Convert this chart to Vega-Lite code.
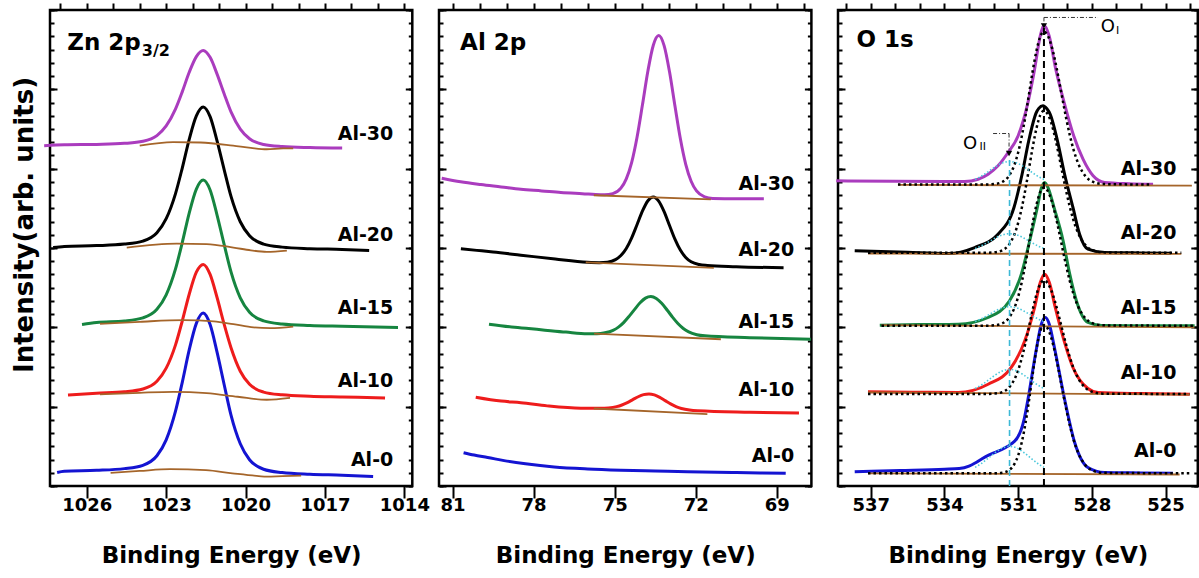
{
"$schema":"https://vega.github.io/schema/vega-lite/v6.json",
"padding":{"left":9,"top":0,"right":0,"bottom":0},
"config":{"view":{"stroke":"black","strokeWidth":2.5},"font":"DejaVu Sans",
"axis":{"domain":false,"grid":false,"tickColor":"black","tickWidth":2,"labelFont":"DejaVu Sans","labelFontSize":18,"labelFontWeight":"bold","labelColor":"black","titleFont":"DejaVu Sans","titleFontSize":23,"titleFontWeight":"bold","titleColor":"black","zindex":1,"labelOverlap":false,"labelFlush":false}},
"datasets":{
"zn":[
{"s":"Al-30","x":1027.61,"y":4.29},{"s":"Al-30","x":1026.85,"y":4.3},{"s":"Al-30","x":1025.63,"y":4.306},{"s":"Al-30","x":1024.58,"y":4.319},{"s":"Al-30","x":1023.88,"y":4.345},{"s":"Al-30","x":1023.35,"y":4.417},{"s":"Al-30","x":1023.0,"y":4.538},{"s":"Al-30","x":1022.65,"y":4.75},{"s":"Al-30","x":1022.39,"y":4.971},{"s":"Al-30","x":1022.13,"y":5.215},{"s":"Al-30","x":1021.86,"y":5.413},{"s":"Al-30","x":1021.6,"y":5.49},{"s":"Al-30","x":1021.34,"y":5.403},{"s":"Al-30","x":1021.08,"y":5.195},{"s":"Al-30","x":1020.81,"y":4.944},{"s":"Al-30","x":1020.55,"y":4.715},{"s":"Al-30","x":1020.2,"y":4.498},{"s":"Al-30","x":1019.85,"y":4.377},{"s":"Al-30","x":1019.32,"y":4.305},{"s":"Al-30","x":1018.62,"y":4.279},{"s":"Al-30","x":1017.57,"y":4.266},{"s":"Al-30","x":1016.35,"y":4.26},
{"s":"Al-20","x":1027.27,"y":3.006},{"s":"Al-20","x":1026.85,"y":3.02},{"s":"Al-20","x":1025.63,"y":3.03},{"s":"Al-20","x":1024.58,"y":3.049},{"s":"Al-20","x":1023.88,"y":3.087},{"s":"Al-20","x":1023.35,"y":3.192},{"s":"Al-20","x":1023.0,"y":3.369},{"s":"Al-20","x":1022.65,"y":3.683},{"s":"Al-20","x":1022.39,"y":4.011},{"s":"Al-20","x":1022.13,"y":4.37},{"s":"Al-20","x":1021.86,"y":4.665},{"s":"Al-20","x":1021.6,"y":4.777},{"s":"Al-20","x":1021.34,"y":4.656},{"s":"Al-20","x":1021.08,"y":4.353},{"s":"Al-20","x":1020.81,"y":3.989},{"s":"Al-20","x":1020.55,"y":3.65},{"s":"Al-20","x":1020.2,"y":3.331},{"s":"Al-20","x":1019.85,"y":3.154},{"s":"Al-20","x":1019.32,"y":3.049},{"s":"Al-20","x":1018.62,"y":3.011},{"s":"Al-20","x":1017.57,"y":2.992},{"s":"Al-20","x":1016.35,"y":2.982},{"s":"Al-20","x":1015.33,"y":2.968},
{"s":"Al-15","x":1026.18,"y":2.036},{"s":"Al-15","x":1025.63,"y":2.061},{"s":"Al-15","x":1024.58,"y":2.08},{"s":"Al-15","x":1023.88,"y":2.119},{"s":"Al-15","x":1023.35,"y":2.227},{"s":"Al-15","x":1023.0,"y":2.41},{"s":"Al-15","x":1022.65,"y":2.733},{"s":"Al-15","x":1022.39,"y":3.072},{"s":"Al-15","x":1022.13,"y":3.44},{"s":"Al-15","x":1021.86,"y":3.743},{"s":"Al-15","x":1021.6,"y":3.857},{"s":"Al-15","x":1021.34,"y":3.732},{"s":"Al-15","x":1021.08,"y":3.419},{"s":"Al-15","x":1020.81,"y":3.045},{"s":"Al-15","x":1020.55,"y":2.699},{"s":"Al-15","x":1020.2,"y":2.372},{"s":"Al-15","x":1019.85,"y":2.189},{"s":"Al-15","x":1019.32,"y":2.081},{"s":"Al-15","x":1018.62,"y":2.042},{"s":"Al-15","x":1017.57,"y":2.023},{"s":"Al-15","x":1016.35,"y":2.013},{"s":"Al-15","x":1014.24,"y":1.998},
{"s":"Al-10","x":1026.71,"y":1.147},{"s":"Al-10","x":1025.63,"y":1.169},{"s":"Al-10","x":1024.58,"y":1.187},{"s":"Al-10","x":1023.88,"y":1.222},{"s":"Al-10","x":1023.35,"y":1.32},{"s":"Al-10","x":1023.0,"y":1.485},{"s":"Al-10","x":1022.65,"y":1.776},{"s":"Al-10","x":1022.39,"y":2.083},{"s":"Al-10","x":1022.13,"y":2.417},{"s":"Al-10","x":1021.86,"y":2.695},{"s":"Al-10","x":1021.6,"y":2.793},{"s":"Al-10","x":1021.34,"y":2.667},{"s":"Al-10","x":1021.08,"y":2.379},{"s":"Al-10","x":1020.81,"y":2.04},{"s":"Al-10","x":1020.55,"y":1.743},{"s":"Al-10","x":1020.2,"y":1.447},{"s":"Al-10","x":1019.85,"y":1.282},{"s":"Al-10","x":1019.32,"y":1.184},{"s":"Al-10","x":1018.62,"y":1.149},{"s":"Al-10","x":1017.57,"y":1.131},{"s":"Al-10","x":1016.35,"y":1.122},{"s":"Al-10","x":1014.73,"y":1.109},
{"s":"Al-0","x":1027.12,"y":0.17},{"s":"Al-0","x":1026.85,"y":0.186},{"s":"Al-0","x":1025.63,"y":0.197},{"s":"Al-0","x":1024.58,"y":0.219},{"s":"Al-0","x":1023.88,"y":0.261},{"s":"Al-0","x":1023.35,"y":0.381},{"s":"Al-0","x":1023.0,"y":0.582},{"s":"Al-0","x":1022.65,"y":0.94},{"s":"Al-0","x":1022.39,"y":1.31},{"s":"Al-0","x":1022.13,"y":1.715},{"s":"Al-0","x":1021.86,"y":2.05},{"s":"Al-0","x":1021.6,"y":2.18},{"s":"Al-0","x":1021.34,"y":2.035},{"s":"Al-0","x":1021.08,"y":1.69},{"s":"Al-0","x":1020.81,"y":1.28},{"s":"Al-0","x":1020.55,"y":0.893},{"s":"Al-0","x":1020.2,"y":0.532},{"s":"Al-0","x":1019.85,"y":0.331},{"s":"Al-0","x":1019.32,"y":0.211},{"s":"Al-0","x":1018.62,"y":0.169},{"s":"Al-0","x":1017.57,"y":0.147},{"s":"Al-0","x":1016.35,"y":0.136},{"s":"Al-0","x":1015.18,"y":0.12}
],
"znbg":[
{"s":"Al-30","x":1024.0,"y":4.29},{"s":"Al-30","x":1022.74,"y":4.335},{"s":"Al-30","x":1021.7,"y":4.33},{"s":"Al-30","x":1020.47,"y":4.29},{"s":"Al-30","x":1019.8,"y":4.262},{"s":"Al-30","x":1019.2,"y":4.245},{"s":"Al-30","x":1018.58,"y":4.255},{"s":"Al-30","x":1018.2,"y":4.255},
{"s":"Al-20","x":1024.49,"y":3.006},{"s":"Al-20","x":1022.6,"y":3.055},{"s":"Al-20","x":1021.47,"y":3.05},{"s":"Al-20","x":1020.46,"y":3.006},{"s":"Al-20","x":1019.8,"y":2.97},{"s":"Al-20","x":1019.2,"y":2.952},{"s":"Al-20","x":1018.44,"y":2.968},
{"s":"Al-15","x":1025.5,"y":2.045},{"s":"Al-15","x":1024.0,"y":2.07},{"s":"Al-15","x":1022.35,"y":2.09},{"s":"Al-15","x":1021.2,"y":2.075},{"s":"Al-15","x":1020.46,"y":2.04},{"s":"Al-15","x":1019.7,"y":2.0},{"s":"Al-15","x":1019.07,"y":1.99},{"s":"Al-15","x":1018.2,"y":2.01},
{"s":"Al-10","x":1025.5,"y":1.155},{"s":"Al-10","x":1024.0,"y":1.175},{"s":"Al-10","x":1022.73,"y":1.187},{"s":"Al-10","x":1021.47,"y":1.17},{"s":"Al-10","x":1020.3,"y":1.125},{"s":"Al-10","x":1019.2,"y":1.087},{"s":"Al-10","x":1018.32,"y":1.112},
{"s":"Al-0","x":1025.1,"y":0.165},{"s":"Al-0","x":1024.0,"y":0.19},{"s":"Al-0","x":1022.85,"y":0.212},{"s":"Al-0","x":1021.5,"y":0.2},{"s":"Al-0","x":1020.5,"y":0.16},{"s":"Al-0","x":1019.5,"y":0.125},{"s":"Al-0","x":1019.2,"y":0.118},{"s":"Al-0","x":1018.6,"y":0.125},{"s":"Al-0","x":1017.9,"y":0.13}
],
"al":[
{"s":"Al-30","x":81.4,"y":3.88},{"s":"Al-30","x":80.7,"y":3.835},{"s":"Al-30","x":79.95,"y":3.8},{"s":"Al-30","x":79.2,"y":3.77},{"s":"Al-30","x":78.47,"y":3.74},{"s":"Al-30","x":77.7,"y":3.72},{"s":"Al-30","x":76.99,"y":3.7},{"s":"Al-30","x":76.2,"y":3.685},{"s":"Al-30","x":75.51,"y":3.672},{"s":"Al-30","x":75.37,"y":3.672},{"s":"Al-30","x":75.07,"y":3.686},{"s":"Al-30","x":74.77,"y":3.754},{"s":"Al-30","x":74.57,"y":3.872},{"s":"Al-30","x":74.37,"y":4.08},{"s":"Al-30","x":74.17,"y":4.4},{"s":"Al-30","x":73.97,"y":4.808},{"s":"Al-30","x":73.77,"y":5.231},{"s":"Al-30","x":73.57,"y":5.556},{"s":"Al-30","x":73.37,"y":5.678},{"s":"Al-30","x":73.17,"y":5.551},{"s":"Al-30","x":72.97,"y":5.221},{"s":"Al-30","x":72.77,"y":4.793},{"s":"Al-30","x":72.57,"y":4.38},{"s":"Al-30","x":72.37,"y":4.055},{"s":"Al-30","x":72.17,"y":3.842},{"s":"Al-30","x":71.97,"y":3.719},{"s":"Al-30","x":71.67,"y":3.644},{"s":"Al-30","x":71.37,"y":3.624},{"s":"Al-30","x":70.5,"y":3.62},{"s":"Al-30","x":69.48,"y":3.62},
{"s":"Al-20","x":80.69,"y":2.99},{"s":"Al-20","x":80.1,"y":2.97},{"s":"Al-20","x":79.5,"y":2.95},{"s":"Al-20","x":78.47,"y":2.91},{"s":"Al-20","x":77.2,"y":2.86},{"s":"Al-20","x":76.01,"y":2.82},{"s":"Al-20","x":75.57,"y":2.815},{"s":"Al-20","x":75.27,"y":2.821},{"s":"Al-20","x":74.97,"y":2.853},{"s":"Al-20","x":74.77,"y":2.905},{"s":"Al-20","x":74.57,"y":2.994},{"s":"Al-20","x":74.37,"y":3.128},{"s":"Al-20","x":74.17,"y":3.296},{"s":"Al-20","x":73.97,"y":3.467},{"s":"Al-20","x":73.77,"y":3.596},{"s":"Al-20","x":73.57,"y":3.644},{"s":"Al-20","x":73.37,"y":3.592},{"s":"Al-20","x":73.17,"y":3.459},{"s":"Al-20","x":72.97,"y":3.284},{"s":"Al-20","x":72.77,"y":3.112},{"s":"Al-20","x":72.57,"y":2.974},{"s":"Al-20","x":72.37,"y":2.881},{"s":"Al-20","x":72.17,"y":2.826},{"s":"Al-20","x":71.87,"y":2.791},{"s":"Al-20","x":71.57,"y":2.78},{"s":"Al-20","x":70.5,"y":2.765},{"s":"Al-20","x":68.75,"y":2.75},
{"s":"Al-15","x":79.65,"y":2.04},{"s":"Al-15","x":78.7,"y":2.0},{"s":"Al-15","x":77.73,"y":1.97},{"s":"Al-15","x":76.8,"y":1.94},{"s":"Al-15","x":76.01,"y":1.92},{"s":"Al-15","x":75.66,"y":1.92},{"s":"Al-15","x":75.36,"y":1.931},{"s":"Al-15","x":75.06,"y":1.962},{"s":"Al-15","x":74.86,"y":2.003},{"s":"Al-15","x":74.66,"y":2.063},{"s":"Al-15","x":74.46,"y":2.141},{"s":"Al-15","x":74.26,"y":2.227},{"s":"Al-15","x":74.06,"y":2.309},{"s":"Al-15","x":73.86,"y":2.368},{"s":"Al-15","x":73.66,"y":2.388},{"s":"Al-15","x":73.46,"y":2.364},{"s":"Al-15","x":73.26,"y":2.303},{"s":"Al-15","x":73.06,"y":2.219},{"s":"Al-15","x":72.86,"y":2.129},{"s":"Al-15","x":72.66,"y":2.049},{"s":"Al-15","x":72.46,"y":1.986},{"s":"Al-15","x":72.26,"y":1.943},{"s":"Al-15","x":71.96,"y":1.907},{"s":"Al-15","x":71.66,"y":1.893},{"s":"Al-15","x":70.0,"y":1.87},{"s":"Al-15","x":67.74,"y":1.85},
{"s":"Al-10","x":80.14,"y":1.12},{"s":"Al-10","x":79.2,"y":1.07},{"s":"Al-10","x":78.47,"y":1.05},{"s":"Al-10","x":77.5,"y":1.01},{"s":"Al-10","x":76.25,"y":0.98},{"s":"Al-10","x":75.53,"y":0.979},{"s":"Al-10","x":75.23,"y":0.984},{"s":"Al-10","x":74.93,"y":1.0},{"s":"Al-10","x":74.73,"y":1.021},{"s":"Al-10","x":74.53,"y":1.051},{"s":"Al-10","x":74.33,"y":1.088},{"s":"Al-10","x":74.13,"y":1.125},{"s":"Al-10","x":73.93,"y":1.152},{"s":"Al-10","x":73.73,"y":1.161},{"s":"Al-10","x":73.53,"y":1.148},{"s":"Al-10","x":73.33,"y":1.117},{"s":"Al-10","x":73.13,"y":1.076},{"s":"Al-10","x":72.93,"y":1.035},{"s":"Al-10","x":72.73,"y":1.001},{"s":"Al-10","x":72.53,"y":0.977},{"s":"Al-10","x":72.23,"y":0.957},{"s":"Al-10","x":71.93,"y":0.948},{"s":"Al-10","x":70.0,"y":0.93},{"s":"Al-10","x":68.18,"y":0.92},
{"s":"Al-0","x":80.59,"y":0.42},{"s":"Al-0","x":80.2,"y":0.39},{"s":"Al-0","x":79.7,"y":0.36},{"s":"Al-0","x":79.09,"y":0.32},{"s":"Al-0","x":78.3,"y":0.28},{"s":"Al-0","x":77.24,"y":0.24},{"s":"Al-0","x":76.0,"y":0.215},{"s":"Al-0","x":74.77,"y":0.2},{"s":"Al-0","x":73.5,"y":0.19},{"s":"Al-0","x":72.31,"y":0.18},{"s":"Al-0","x":70.5,"y":0.17},{"s":"Al-0","x":68.67,"y":0.16}
],
"albg":[
{"s":"Al-30","x":75.77,"y":3.665},{"s":"Al-30","x":71.44,"y":3.612},
{"s":"Al-20","x":76.07,"y":2.82},{"s":"Al-20","x":71.33,"y":2.75},
{"s":"Al-15","x":75.76,"y":1.92},{"s":"Al-15","x":71.07,"y":1.85},
{"s":"Al-10","x":75.77,"y":0.977},{"s":"Al-10","x":71.57,"y":0.905}
],
"o":[
{"s":"Al-30","x":538.4,"y":3.847},{"s":"Al-30","x":536.0,"y":3.842},{"s":"Al-30","x":534.0,"y":3.838},{"s":"Al-30","x":533.18,"y":3.838},{"s":"Al-30","x":532.63,"y":3.867},{"s":"Al-30","x":532.22,"y":3.93},{"s":"Al-30","x":531.82,"y":4.036},{"s":"Al-30","x":531.41,"y":4.204},{"s":"Al-30","x":531.0,"y":4.414},{"s":"Al-30","x":530.6,"y":4.836},{"s":"Al-30","x":530.33,"y":5.254},{"s":"Al-30","x":530.1,"y":5.675},{"s":"Al-30","x":529.95,"y":5.809},{"s":"Al-30","x":529.74,"y":5.675},{"s":"Al-30","x":529.47,"y":5.254},{"s":"Al-30","x":529.13,"y":4.836},{"s":"Al-30","x":528.74,"y":4.414},{"s":"Al-30","x":528.36,"y":4.119},{"s":"Al-30","x":527.95,"y":3.91},{"s":"Al-30","x":527.48,"y":3.826},{"s":"Al-30","x":526.5,"y":3.81},{"s":"Al-30","x":525.51,"y":3.804},
{"s":"Al-20","x":537.65,"y":2.965},{"s":"Al-20","x":535.5,"y":2.945},{"s":"Al-20","x":533.85,"y":2.931},{"s":"Al-20","x":532.77,"y":3.006},{"s":"Al-20","x":531.82,"y":3.174},{"s":"Al-20","x":531.17,"y":3.511},{"s":"Al-20","x":530.84,"y":3.93},{"s":"Al-20","x":530.57,"y":4.351},{"s":"Al-20","x":530.26,"y":4.708},{"s":"Al-20","x":530.16,"y":4.76},{"s":"Al-20","x":529.99,"y":4.793},{"s":"Al-20","x":529.83,"y":4.755},{"s":"Al-20","x":529.69,"y":4.683},{"s":"Al-20","x":529.4,"y":4.351},{"s":"Al-20","x":529.11,"y":3.93},{"s":"Al-20","x":528.77,"y":3.511},{"s":"Al-20","x":528.5,"y":3.174},{"s":"Al-20","x":528.16,"y":2.985},{"s":"Al-20","x":527.48,"y":2.943},{"s":"Al-20","x":526.0,"y":2.938},{"s":"Al-20","x":524.77,"y":2.935},
{"s":"Al-15","x":536.63,"y":2.027},{"s":"Al-15","x":535.0,"y":2.035},{"s":"Al-15","x":533.44,"y":2.04},{"s":"Al-15","x":532.22,"y":2.124},{"s":"Al-15","x":531.35,"y":2.335},{"s":"Al-15","x":530.87,"y":2.67},{"s":"Al-15","x":530.53,"y":3.091},{"s":"Al-15","x":530.22,"y":3.511},{"s":"Al-15","x":530.06,"y":3.75},{"s":"Al-15","x":529.92,"y":3.826},{"s":"Al-15","x":529.77,"y":3.75},{"s":"Al-15","x":529.54,"y":3.511},{"s":"Al-15","x":529.17,"y":3.091},{"s":"Al-15","x":528.9,"y":2.67},{"s":"Al-15","x":528.63,"y":2.335},{"s":"Al-15","x":528.16,"y":2.061},{"s":"Al-15","x":527.61,"y":2.023},{"s":"Al-15","x":525.5,"y":2.02},{"s":"Al-15","x":523.82,"y":2.019},
{"s":"Al-10","x":537.11,"y":1.187},{"s":"Al-10","x":535.3,"y":1.183},{"s":"Al-10","x":533.44,"y":1.179},{"s":"Al-10","x":532.22,"y":1.283},{"s":"Al-10","x":531.28,"y":1.494},{"s":"Al-10","x":530.73,"y":1.83},{"s":"Al-10","x":530.33,"y":2.25},{"s":"Al-10","x":530.1,"y":2.565},{"s":"Al-10","x":529.92,"y":2.67},{"s":"Al-10","x":529.73,"y":2.565},{"s":"Al-10","x":529.49,"y":2.25},{"s":"Al-10","x":529.13,"y":1.83},{"s":"Al-10","x":528.77,"y":1.494},{"s":"Al-10","x":528.16,"y":1.229},{"s":"Al-10","x":527.75,"y":1.179},{"s":"Al-10","x":526.0,"y":1.165},{"s":"Al-10","x":524.02,"y":1.157},
{"s":"Al-0","x":537.65,"y":0.179},{"s":"Al-0","x":535.8,"y":0.195},{"s":"Al-0","x":533.99,"y":0.212},{"s":"Al-0","x":533.4,"y":0.22},{"s":"Al-0","x":533.0,"y":0.25},{"s":"Al-0","x":532.75,"y":0.29},{"s":"Al-0","x":532.5,"y":0.338},{"s":"Al-0","x":532.2,"y":0.39},{"s":"Al-0","x":531.96,"y":0.422},{"s":"Al-0","x":531.6,"y":0.47},{"s":"Al-0","x":531.28,"y":0.53},{"s":"Al-0","x":531.05,"y":0.6},{"s":"Al-0","x":530.87,"y":0.716},{"s":"Al-0","x":530.75,"y":0.85},{"s":"Al-0","x":530.6,"y":1.094},{"s":"Al-0","x":530.26,"y":1.724},{"s":"Al-0","x":530.06,"y":2.036},{"s":"Al-0","x":529.89,"y":2.124},{"s":"Al-0","x":529.73,"y":2.036},{"s":"Al-0","x":529.51,"y":1.724},{"s":"Al-0","x":529.11,"y":1.094},{"s":"Al-0","x":528.7,"y":0.548},{"s":"Al-0","x":528.16,"y":0.233},{"s":"Al-0","x":527.48,"y":0.17},{"s":"Al-0","x":526.0,"y":0.165},{"s":"Al-0","x":524.7,"y":0.161}
],
"obg":[
{"s":"Al-30","x":535.89,"y":3.795},{"s":"Al-30","x":523.93,"y":3.785},
{"s":"Al-20","x":537.11,"y":2.93},{"s":"Al-20","x":524.36,"y":2.925},
{"s":"Al-15","x":536.56,"y":2.027},{"s":"Al-15","x":523.83,"y":2.0},
{"s":"Al-10","x":537.11,"y":1.179},{"s":"Al-10","x":524.03,"y":1.153},
{"s":"Al-0","x":537.11,"y":0.158},{"s":"Al-0","x":524.43,"y":0.145}
],
"ofit1":[
{"s":"Al-30","x":535.89,"y":3.8},{"s":"Al-30","x":532.35,"y":3.8},{"s":"Al-30","x":531.95,"y":3.807},{"s":"Al-30","x":531.65,"y":3.832},{"s":"Al-30","x":531.35,"y":3.92},{"s":"Al-30","x":531.15,"y":4.05},{"s":"Al-30","x":531.0,"y":4.204},{"s":"Al-30","x":530.85,"y":4.412},{"s":"Al-30","x":530.7,"y":4.668},{"s":"Al-30","x":530.55,"y":4.956},{"s":"Al-30","x":530.4,"y":5.245},{"s":"Al-30","x":530.25,"y":5.493},{"s":"Al-30","x":530.1,"y":5.664},{"s":"Al-30","x":529.95,"y":5.724},{"s":"Al-30","x":529.8,"y":5.68},{"s":"Al-30","x":529.65,"y":5.555},{"s":"Al-30","x":529.5,"y":5.366},{"s":"Al-30","x":529.35,"y":5.133},{"s":"Al-30","x":529.2,"y":4.883},{"s":"Al-30","x":529.05,"y":4.643},{"s":"Al-30","x":528.9,"y":4.425},{"s":"Al-30","x":528.75,"y":4.243},{"s":"Al-30","x":528.55,"y":4.062},{"s":"Al-30","x":528.25,"y":3.9},{"s":"Al-30","x":527.95,"y":3.833},{"s":"Al-30","x":527.55,"y":3.806},{"s":"Al-30","x":525.58,"y":3.8},
{"s":"Al-20","x":537.11,"y":2.94},{"s":"Al-20","x":532.35,"y":2.94},{"s":"Al-20","x":531.95,"y":2.946},{"s":"Al-20","x":531.65,"y":2.97},{"s":"Al-20","x":531.35,"y":3.052},{"s":"Al-20","x":531.15,"y":3.173},{"s":"Al-20","x":531.0,"y":3.316},{"s":"Al-20","x":530.85,"y":3.509},{"s":"Al-20","x":530.7,"y":3.747},{"s":"Al-20","x":530.55,"y":4.016},{"s":"Al-20","x":530.4,"y":4.284},{"s":"Al-20","x":530.25,"y":4.515},{"s":"Al-20","x":530.1,"y":4.675},{"s":"Al-20","x":529.95,"y":4.73},{"s":"Al-20","x":529.8,"y":4.689},{"s":"Al-20","x":529.65,"y":4.573},{"s":"Al-20","x":529.5,"y":4.397},{"s":"Al-20","x":529.35,"y":4.18},{"s":"Al-20","x":529.2,"y":3.948},{"s":"Al-20","x":529.05,"y":3.724},{"s":"Al-20","x":528.9,"y":3.522},{"s":"Al-20","x":528.75,"y":3.352},{"s":"Al-20","x":528.55,"y":3.183},{"s":"Al-20","x":528.25,"y":3.033},{"s":"Al-20","x":527.95,"y":2.97},{"s":"Al-20","x":527.55,"y":2.945},{"s":"Al-20","x":524.36,"y":2.94},
{"s":"Al-15","x":536.56,"y":2.02},{"s":"Al-15","x":532.35,"y":2.02},{"s":"Al-15","x":531.95,"y":2.026},{"s":"Al-15","x":531.65,"y":2.049},{"s":"Al-15","x":531.35,"y":2.129},{"s":"Al-15","x":531.15,"y":2.246},{"s":"Al-15","x":531.0,"y":2.385},{"s":"Al-15","x":530.85,"y":2.573},{"s":"Al-15","x":530.7,"y":2.805},{"s":"Al-15","x":530.55,"y":3.066},{"s":"Al-15","x":530.4,"y":3.327},{"s":"Al-15","x":530.25,"y":3.551},{"s":"Al-15","x":530.1,"y":3.706},{"s":"Al-15","x":529.95,"y":3.76},{"s":"Al-15","x":529.8,"y":3.72},{"s":"Al-15","x":529.65,"y":3.607},{"s":"Al-15","x":529.5,"y":3.436},{"s":"Al-15","x":529.35,"y":3.226},{"s":"Al-15","x":529.2,"y":3.0},{"s":"Al-15","x":529.05,"y":2.782},{"s":"Al-15","x":528.9,"y":2.586},{"s":"Al-15","x":528.75,"y":2.42},{"s":"Al-15","x":528.55,"y":2.257},{"s":"Al-15","x":528.25,"y":2.11},{"s":"Al-15","x":527.95,"y":2.05},{"s":"Al-15","x":527.55,"y":2.025},{"s":"Al-15","x":523.83,"y":2.02},
{"s":"Al-10","x":537.11,"y":1.16},{"s":"Al-10","x":532.35,"y":1.16},{"s":"Al-10","x":531.95,"y":1.165},{"s":"Al-10","x":531.65,"y":1.184},{"s":"Al-10","x":531.35,"y":1.249},{"s":"Al-10","x":531.15,"y":1.346},{"s":"Al-10","x":531.0,"y":1.46},{"s":"Al-10","x":530.85,"y":1.615},{"s":"Al-10","x":530.7,"y":1.805},{"s":"Al-10","x":530.55,"y":2.019},{"s":"Al-10","x":530.4,"y":2.234},{"s":"Al-10","x":530.25,"y":2.418},{"s":"Al-10","x":530.1,"y":2.546},{"s":"Al-10","x":529.95,"y":2.59},{"s":"Al-10","x":529.8,"y":2.557},{"s":"Al-10","x":529.65,"y":2.464},{"s":"Al-10","x":529.5,"y":2.324},{"s":"Al-10","x":529.35,"y":2.151},{"s":"Al-10","x":529.2,"y":1.965},{"s":"Al-10","x":529.05,"y":1.786},{"s":"Al-10","x":528.9,"y":1.625},{"s":"Al-10","x":528.75,"y":1.489},{"s":"Al-10","x":528.55,"y":1.354},{"s":"Al-10","x":528.25,"y":1.234},{"s":"Al-10","x":527.95,"y":1.184},{"s":"Al-10","x":527.55,"y":1.164},{"s":"Al-10","x":524.03,"y":1.16},
{"s":"Al-0","x":537.11,"y":0.16},{"s":"Al-0","x":532.35,"y":0.16},{"s":"Al-0","x":531.95,"y":0.16},{"s":"Al-0","x":531.65,"y":0.167},{"s":"Al-0","x":531.35,"y":0.203},{"s":"Al-0","x":531.15,"y":0.278},{"s":"Al-0","x":531.0,"y":0.384},{"s":"Al-0","x":530.85,"y":0.555},{"s":"Al-0","x":530.7,"y":0.794},{"s":"Al-0","x":530.55,"y":1.095},{"s":"Al-0","x":530.4,"y":1.428},{"s":"Al-0","x":530.25,"y":1.733},{"s":"Al-0","x":530.1,"y":1.951},{"s":"Al-0","x":529.95,"y":2.03},{"s":"Al-0","x":529.8,"y":1.987},{"s":"Al-0","x":529.65,"y":1.865},{"s":"Al-0","x":529.5,"y":1.682},{"s":"Al-0","x":529.35,"y":1.456},{"s":"Al-0","x":529.2,"y":1.213},{"s":"Al-0","x":529.05,"y":0.979},{"s":"Al-0","x":528.9,"y":0.768},{"s":"Al-0","x":528.75,"y":0.59},{"s":"Al-0","x":528.55,"y":0.414},{"s":"Al-0","x":528.25,"y":0.257},{"s":"Al-0","x":527.95,"y":0.192},{"s":"Al-0","x":527.55,"y":0.166},{"s":"Al-0","x":524.03,"y":0.16}
],
"ofit2":[
{"s":"Al-30","x":532.75,"y":3.864},{"s":"Al-30","x":532.45,"y":3.915},{"s":"Al-30","x":532.15,"y":3.977},{"s":"Al-30","x":531.95,"y":4.02},{"s":"Al-30","x":531.65,"y":4.071},{"s":"Al-30","x":531.35,"y":4.09},{"s":"Al-30","x":531.05,"y":4.071},{"s":"Al-30","x":530.75,"y":4.02},{"s":"Al-30","x":530.45,"y":3.956},{"s":"Al-30","x":530.15,"y":3.896},{"s":"Al-30","x":529.95,"y":3.864},
{"s":"Al-20","x":532.75,"y":2.993},{"s":"Al-20","x":532.45,"y":3.035},{"s":"Al-20","x":532.15,"y":3.087},{"s":"Al-20","x":531.95,"y":3.122},{"s":"Al-20","x":531.65,"y":3.164},{"s":"Al-20","x":531.35,"y":3.18},{"s":"Al-20","x":531.05,"y":3.164},{"s":"Al-20","x":530.75,"y":3.122},{"s":"Al-20","x":530.45,"y":3.069},{"s":"Al-20","x":530.15,"y":3.019},{"s":"Al-20","x":529.95,"y":2.993},
{"s":"Al-15","x":532.75,"y":2.073},{"s":"Al-15","x":532.45,"y":2.115},{"s":"Al-15","x":532.15,"y":2.167},{"s":"Al-15","x":531.95,"y":2.202},{"s":"Al-15","x":531.65,"y":2.244},{"s":"Al-15","x":531.35,"y":2.26},{"s":"Al-15","x":531.05,"y":2.244},{"s":"Al-15","x":530.75,"y":2.202},{"s":"Al-15","x":530.45,"y":2.149},{"s":"Al-15","x":530.15,"y":2.099},{"s":"Al-15","x":529.95,"y":2.073},
{"s":"Al-10","x":532.75,"y":1.229},{"s":"Al-10","x":532.45,"y":1.282},{"s":"Al-10","x":532.15,"y":1.35},{"s":"Al-10","x":531.95,"y":1.395},{"s":"Al-10","x":531.65,"y":1.449},{"s":"Al-10","x":531.35,"y":1.47},{"s":"Al-10","x":531.05,"y":1.449},{"s":"Al-10","x":530.75,"y":1.395},{"s":"Al-10","x":530.45,"y":1.326},{"s":"Al-10","x":530.15,"y":1.263},{"s":"Al-10","x":529.95,"y":1.229},
{"s":"Al-0","x":532.75,"y":0.235},{"s":"Al-0","x":532.45,"y":0.294},{"s":"Al-0","x":532.15,"y":0.368},{"s":"Al-0","x":531.95,"y":0.418},{"s":"Al-0","x":531.65,"y":0.477},{"s":"Al-0","x":531.35,"y":0.5},{"s":"Al-0","x":531.05,"y":0.477},{"s":"Al-0","x":530.75,"y":0.418},{"s":"Al-0","x":530.45,"y":0.343},{"s":"Al-0","x":530.15,"y":0.273},{"s":"Al-0","x":529.95,"y":0.235}
],
"lab":[
{"p":"zn","t":"Al-30","x":1014.42,"y":4.44},{"p":"zn","t":"Al-20","x":1014.42,"y":3.17},{"p":"zn","t":"Al-15","x":1014.42,"y":2.24},{"p":"zn","t":"Al-10","x":1014.42,"y":1.32},{"p":"zn","t":"Al-0","x":1014.42,"y":0.33},
{"p":"al","t":"Al-30","x":68.36,"y":3.81},{"p":"al","t":"Al-20","x":68.36,"y":2.97},{"p":"al","t":"Al-15","x":68.36,"y":2.07},{"p":"al","t":"Al-10","x":68.36,"y":1.21},{"p":"al","t":"Al-0","x":68.36,"y":0.38},
{"p":"o","t":"Al-30","x":524.56,"y":3.99},{"p":"o","t":"Al-20","x":524.56,"y":3.185},{"p":"o","t":"Al-15","x":524.56,"y":2.24},{"p":"o","t":"Al-10","x":524.56,"y":1.42},{"p":"o","t":"Al-0","x":524.56,"y":0.435}
],
"ttl":[
{"p":"zn","k":"main","t":"Zn 2p","x":1026.74,"y":5.5},{"p":"zn","k":"sub","t":"3/2","x":1023.92,"y":5.42},
{"p":"al","k":"main","t":"Al 2p","x":80.72,"y":5.5},
{"p":"o","k":"main","t":"O 1s","x":537.58,"y":5.53},
{"p":"o","k":"ann","t":"O","x":527.64,"y":5.723},{"p":"o","k":"annsub","t":"I","x":527.02,"y":5.7},
{"p":"o","k":"ann","t":"O","x":533.24,"y":4.245},{"p":"o","k":"annsub","t":"II","x":532.57,"y":4.23}
]
},
"spacing":26,"bounds":"flush",
"hconcat":[
{"width":362.3,"height":476,
"layer":[
{"data":{"name":"zn"},"mark":{"type":"line","strokeWidth":3,"interpolate":"monotone"},
"encoding":{"x":{"field":"x","type":"quantitative","scale":{"domain":[1013.7,1027.39],"reverse":true,"nice":false,"zero":false},
"axis":{"values":[1014,1017,1020,1023,1026],"format":"d","tickSize":12,"labelPadding":-1.5,"title":"Binding Energy (eV)","titleY":76.5,"titleBaseline":"alphabetic"}},
"y":{"field":"y","type":"quantitative","scale":{"domain":[0,6],"nice":false,"zero":false},
"axis":{"orient":"left","values":[0,1,2,3,4,5,6],"labels":false,"tickSize":-7,"title":"Intensity(arb. units)","titleFontSize":26,"titleX":-18,"titleY":214.5,"titleBaseline":"alphabetic"}},
"color":{"field":"s","type":"nominal","scale":{"domain":["Al-0","Al-10","Al-15","Al-20","Al-30"],"range":["#1414D2","#EE1C1C","#168540","#000000","#AA3CBE"]},"legend":null}}},
{"data":{"name":"znbg"},"mark":{"type":"line","strokeWidth":1.8,"color":"#A5652A","interpolate":"monotone"},
"encoding":{"x":{"field":"x","type":"quantitative","scale":{"domain":[1013.7,1027.39],"reverse":true,"nice":false,"zero":false},
"axis":{"values":[1014,1015,1016,1017,1018,1019,1020,1021,1022,1023,1024,1025,1026,1027],"tickSize":7,"labels":false,"title":null}},
"y":{"field":"y","type":"quantitative","scale":{"domain":[0,6],"nice":false,"zero":false},
"axis":{"orient":"right","values":[0,1,2,3,4,5,6],"labels":false,"tickSize":-7,"title":null}},
"detail":{"field":"s"}}},
{"data":{"name":"lab"},"transform":[{"filter":"datum.p == 'zn'"}],"mark":{"type":"text","align":"right","baseline":"middle","fontSize":19,"fontWeight":"bold","color":"black"},
"encoding":{"x":{"field":"x","type":"quantitative","scale":{"domain":[1013.7,1027.39],"reverse":true,"nice":false,"zero":false},"axis":null},
"y":{"field":"y","type":"quantitative","scale":{"domain":[0,6],"nice":false,"zero":false},"axis":{"orient":"left","values":[0,0.1667,0.3333,0.5,0.6667,0.8333,1,1.1667,1.3333,1.5,1.6667,1.8333,2,2.1667,2.3333,2.5,2.6667,2.8333,3,3.1667,3.3333,3.5,3.6667,3.8333,4,4.1667,4.3333,4.5,4.6667,4.8333,5,5.1667,5.3333,5.5,5.6667,5.8333,6],"labels":false,"tickSize":-4,"title":null}},"text":{"field":"t"}}},
{"data":{"name":"ttl"},"transform":[{"filter":"datum.p == 'zn' && datum.k == 'main'"}],"mark":{"type":"text","align":"left","baseline":"alphabetic","fontSize":23,"fontWeight":"bold","color":"black"},
"encoding":{"x":{"field":"x","type":"quantitative","scale":{"domain":[1013.7,1027.39],"reverse":true,"nice":false,"zero":false},"axis":null},
"y":{"field":"y","type":"quantitative","scale":{"domain":[0,6],"nice":false,"zero":false},"axis":{"orient":"right","values":[0,0.1667,0.3333,0.5,0.6667,0.8333,1,1.1667,1.3333,1.5,1.6667,1.8333,2,2.1667,2.3333,2.5,2.6667,2.8333,3,3.1667,3.3333,3.5,3.6667,3.8333,4,4.1667,4.3333,4.5,4.6667,4.8333,5,5.1667,5.3333,5.5,5.6667,5.8333,6],"labels":false,"tickSize":-4,"title":null}},"text":{"field":"t"}}},
{"data":{"name":"ttl"},"transform":[{"filter":"datum.p == 'zn' && datum.k == 'sub'"}],"mark":{"type":"text","align":"left","baseline":"alphabetic","fontSize":16,"fontWeight":"bold","color":"black"},
"encoding":{"x":{"field":"x","type":"quantitative","scale":{"domain":[1013.7,1027.39],"reverse":true,"nice":false,"zero":false},"axis":null},"y":{"field":"y","type":"quantitative","scale":{"domain":[0,6],"nice":false,"zero":false},"axis":null},"text":{"field":"t"}}}
],
"resolve":{"axis":{"x":"independent","y":"independent"}}},
{"width":372.4,"height":476,
"layer":[
{"data":{"name":"al"},"mark":{"type":"line","strokeWidth":3,"interpolate":"monotone"},
"encoding":{"x":{"field":"x","type":"quantitative","scale":{"domain":[67.72,81.5],"reverse":true,"nice":false,"zero":false},
"axis":{"values":[69,72,75,78,81],"format":"d","tickSize":12,"labelPadding":-1.5,"title":"Binding Energy (eV)","titleY":76.5,"titleBaseline":"alphabetic"}},
"y":{"field":"y","type":"quantitative","scale":{"domain":[0,6],"nice":false,"zero":false},
"axis":{"orient":"left","values":[0,1,2,3,4,5,6],"labels":false,"tickSize":-7,"title":null}},
"color":{"field":"s","type":"nominal","scale":{"domain":["Al-0","Al-10","Al-15","Al-20","Al-30"],"range":["#1414D2","#EE1C1C","#168540","#000000","#AA3CBE"]},"legend":null}}},
{"data":{"name":"albg"},"mark":{"type":"line","strokeWidth":1.8,"color":"#A5652A"},
"encoding":{"x":{"field":"x","type":"quantitative","scale":{"domain":[67.72,81.5],"reverse":true,"nice":false,"zero":false},
"axis":{"values":[68,69,70,71,72,73,74,75,76,77,78,79,80,81],"tickSize":7,"labels":false,"title":null}},
"y":{"field":"y","type":"quantitative","scale":{"domain":[0,6],"nice":false,"zero":false},
"axis":{"orient":"right","values":[0,1,2,3,4,5,6],"labels":false,"tickSize":-7,"title":null}},
"detail":{"field":"s"}}},
{"data":{"name":"lab"},"transform":[{"filter":"datum.p == 'al'"}],"mark":{"type":"text","align":"right","baseline":"middle","fontSize":19,"fontWeight":"bold","color":"black"},
"encoding":{"x":{"field":"x","type":"quantitative","scale":{"domain":[67.72,81.5],"reverse":true,"nice":false,"zero":false},"axis":null},
"y":{"field":"y","type":"quantitative","scale":{"domain":[0,6],"nice":false,"zero":false},"axis":{"orient":"left","values":[0,0.1667,0.3333,0.5,0.6667,0.8333,1,1.1667,1.3333,1.5,1.6667,1.8333,2,2.1667,2.3333,2.5,2.6667,2.8333,3,3.1667,3.3333,3.5,3.6667,3.8333,4,4.1667,4.3333,4.5,4.6667,4.8333,5,5.1667,5.3333,5.5,5.6667,5.8333,6],"labels":false,"tickSize":-4,"title":null}},"text":{"field":"t"}}},
{"data":{"name":"ttl"},"transform":[{"filter":"datum.p == 'al' && datum.k == 'main'"}],"mark":{"type":"text","align":"left","baseline":"alphabetic","fontSize":23,"fontWeight":"bold","color":"black"},
"encoding":{"x":{"field":"x","type":"quantitative","scale":{"domain":[67.72,81.5],"reverse":true,"nice":false,"zero":false},"axis":null},
"y":{"field":"y","type":"quantitative","scale":{"domain":[0,6],"nice":false,"zero":false},"axis":{"orient":"right","values":[0,0.1667,0.3333,0.5,0.6667,0.8333,1,1.1667,1.3333,1.5,1.6667,1.8333,2,2.1667,2.3333,2.5,2.6667,2.8333,3,3.1667,3.3333,3.5,3.6667,3.8333,4,4.1667,4.3333,4.5,4.6667,4.8333,5,5.1667,5.3333,5.5,5.6667,5.8333,6],"labels":false,"tickSize":-4,"title":null}},"text":{"field":"t"}}}
],
"resolve":{"axis":{"x":"independent","y":"independent"}}},
{"width":359.8,"height":476,
"layer":[
{"data":{"name":"o"},"mark":{"type":"line","strokeWidth":3,"interpolate":"monotone"},
"encoding":{"x":{"field":"x","type":"quantitative","scale":{"domain":[523.69,538.33],"reverse":true,"nice":false,"zero":false},
"axis":{"values":[525,528,531,534,537],"format":"d","tickSize":12,"labelPadding":-1.5,"title":"Binding Energy (eV)","titleY":76.5,"titleBaseline":"alphabetic"}},
"y":{"field":"y","type":"quantitative","scale":{"domain":[0,6],"nice":false,"zero":false},
"axis":{"orient":"left","values":[0,1,2,3,4,5,6],"labels":false,"tickSize":-7,"title":null}},
"color":{"field":"s","type":"nominal","scale":{"domain":["Al-0","Al-10","Al-15","Al-20","Al-30"],"range":["#1414D2","#EE1C1C","#168540","#000000","#AA3CBE"]},"legend":null}}},
{"data":{"name":"obg"},"mark":{"type":"line","strokeWidth":1.8,"color":"#A5652A"},
"encoding":{"x":{"field":"x","type":"quantitative","scale":{"domain":[523.69,538.33],"reverse":true,"nice":false,"zero":false},
"axis":{"values":[524,525,526,527,528,529,530,531,532,533,534,535,536,537,538],"tickSize":7,"labels":false,"title":null}},
"y":{"field":"y","type":"quantitative","scale":{"domain":[0,6],"nice":false,"zero":false},
"axis":{"orient":"right","values":[0,1,2,3,4,5,6],"labels":false,"tickSize":-7,"title":null}},
"detail":{"field":"s"}}},
{"data":{"name":"ofit1"},"mark":{"type":"line","strokeWidth":2.5,"color":"black","strokeDash":[2.5,3],"interpolate":"monotone"},
"encoding":{"x":{"field":"x","type":"quantitative","scale":{"domain":[523.69,538.33],"reverse":true,"nice":false,"zero":false},"axis":null},"y":{"field":"y","type":"quantitative","scale":{"domain":[0,6],"nice":false,"zero":false},"axis":null},"detail":{"field":"s"}}},
{"data":{"name":"ofit2"},"mark":{"type":"line","strokeWidth":1.6,"color":"#4CC8DC","strokeDash":[1.5,2],"interpolate":"monotone"},
"encoding":{"x":{"field":"x","type":"quantitative","scale":{"domain":[523.69,538.33],"reverse":true,"nice":false,"zero":false},"axis":null},"y":{"field":"y","type":"quantitative","scale":{"domain":[0,6],"nice":false,"zero":false},"axis":null},"detail":{"field":"s"}}},
{"data":{"values":[{"x":529.95,"y":0,"y2":5.78}]},"mark":{"type":"rule","strokeWidth":2,"color":"black","strokeDash":[7,4]},
"encoding":{"x":{"field":"x","type":"quantitative","scale":{"domain":[523.69,538.33],"reverse":true,"nice":false,"zero":false},"axis":null},"y":{"field":"y","type":"quantitative","scale":{"domain":[0,6],"nice":false,"zero":false},"axis":null},"y2":{"field":"y2"}}},
{"data":{"values":[{"x":531.35,"y":0,"y2":4.12}]},"mark":{"type":"rule","strokeWidth":1.6,"color":"#3DB9D6","strokeDash":[6,4]},
"encoding":{"x":{"field":"x","type":"quantitative","scale":{"domain":[523.69,538.33],"reverse":true,"nice":false,"zero":false},"axis":null},"y":{"field":"y","type":"quantitative","scale":{"domain":[0,6],"nice":false,"zero":false},"axis":null},"y2":{"field":"y2"}}},
{"data":{"values":[{"x":529.95,"x2":527.75,"y":5.906,"y2":5.906},{"x":529.95,"x2":529.95,"y":5.906,"y2":5.81},{"x":532.02,"x2":531.37,"y":4.443,"y2":4.443},{"x":531.37,"x2":531.37,"y":4.443,"y2":4.22}]},"mark":{"type":"rule","strokeWidth":1,"color":"#333333","strokeDash":[4,2,1,2]},
"encoding":{"x":{"field":"x","type":"quantitative","scale":{"domain":[523.69,538.33],"reverse":true,"nice":false,"zero":false},"axis":null},"x2":{"field":"x2"},"y":{"field":"y","type":"quantitative","scale":{"domain":[0,6],"nice":false,"zero":false},"axis":null},"y2":{"field":"y2"}}},
{"data":{"values":[{"x":529.95,"y":5.8},{"x":531.37,"y":4.19}]},"mark":{"type":"point","shape":"triangle-down","filled":true,"color":"black","size":40,"opacity":1},
"encoding":{"x":{"field":"x","type":"quantitative","scale":{"domain":[523.69,538.33],"reverse":true,"nice":false,"zero":false},"axis":null},"y":{"field":"y","type":"quantitative","scale":{"domain":[0,6],"nice":false,"zero":false},"axis":null}}},
{"data":{"name":"lab"},"transform":[{"filter":"datum.p == 'o'"}],"mark":{"type":"text","align":"right","baseline":"middle","fontSize":19,"fontWeight":"bold","color":"black"},
"encoding":{"x":{"field":"x","type":"quantitative","scale":{"domain":[523.69,538.33],"reverse":true,"nice":false,"zero":false},"axis":null},
"y":{"field":"y","type":"quantitative","scale":{"domain":[0,6],"nice":false,"zero":false},"axis":{"orient":"left","values":[0,0.1667,0.3333,0.5,0.6667,0.8333,1,1.1667,1.3333,1.5,1.6667,1.8333,2,2.1667,2.3333,2.5,2.6667,2.8333,3,3.1667,3.3333,3.5,3.6667,3.8333,4,4.1667,4.3333,4.5,4.6667,4.8333,5,5.1667,5.3333,5.5,5.6667,5.8333,6],"labels":false,"tickSize":-4,"title":null}},"text":{"field":"t"}}},
{"data":{"name":"ttl"},"transform":[{"filter":"datum.p == 'o' && datum.k == 'main'"}],"mark":{"type":"text","align":"left","baseline":"alphabetic","fontSize":23,"fontWeight":"bold","color":"black"},
"encoding":{"x":{"field":"x","type":"quantitative","scale":{"domain":[523.69,538.33],"reverse":true,"nice":false,"zero":false},"axis":null},
"y":{"field":"y","type":"quantitative","scale":{"domain":[0,6],"nice":false,"zero":false},"axis":{"orient":"right","values":[0,0.1667,0.3333,0.5,0.6667,0.8333,1,1.1667,1.3333,1.5,1.6667,1.8333,2,2.1667,2.3333,2.5,2.6667,2.8333,3,3.1667,3.3333,3.5,3.6667,3.8333,4,4.1667,4.3333,4.5,4.6667,4.8333,5,5.1667,5.3333,5.5,5.6667,5.8333,6],"labels":false,"tickSize":-4,"title":null}},"text":{"field":"t"}}},
{"data":{"name":"ttl"},"transform":[{"filter":"datum.p == 'o' && datum.k == 'ann'"}],"mark":{"type":"text","align":"left","baseline":"alphabetic","fontSize":18,"color":"black"},
"encoding":{"x":{"field":"x","type":"quantitative","scale":{"domain":[523.69,538.33],"reverse":true,"nice":false,"zero":false},"axis":null},"y":{"field":"y","type":"quantitative","scale":{"domain":[0,6],"nice":false,"zero":false},"axis":null},"text":{"field":"t"}}},
{"data":{"name":"ttl"},"transform":[{"filter":"datum.p == 'o' && datum.k == 'annsub'"}],"mark":{"type":"text","align":"left","baseline":"alphabetic","fontSize":11,"color":"black"},
"encoding":{"x":{"field":"x","type":"quantitative","scale":{"domain":[523.69,538.33],"reverse":true,"nice":false,"zero":false},"axis":null},"y":{"field":"y","type":"quantitative","scale":{"domain":[0,6],"nice":false,"zero":false},"axis":null},"text":{"field":"t"}}}
],
"resolve":{"axis":{"x":"independent","y":"independent"}}}
]
}
